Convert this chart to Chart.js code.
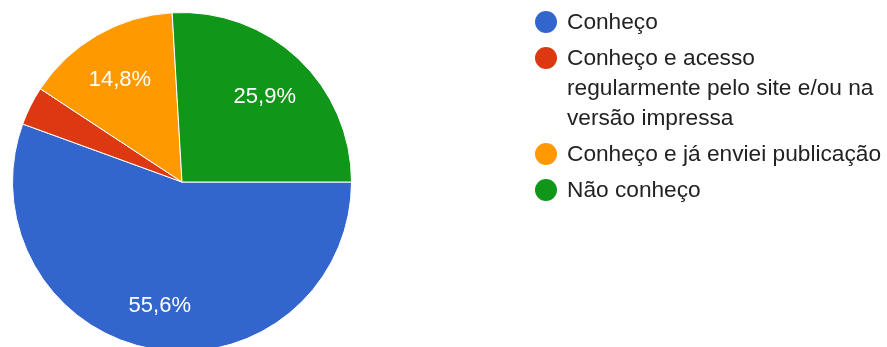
<!DOCTYPE html>
<html>
<head>
<meta charset="utf-8">
<script src="https://cdn.jsdelivr.net/npm/chart.js@4/dist/chart.umd.min.js"></script>
<style>
  html, body { margin: 0; padding: 0; background: #fff; overflow: hidden; }
  #wrap { position: relative; width: 887px; height: 364px; }
</style>
</head>
<body>
<div id="wrap"><canvas id="pie"></canvas></div>
<script>
// dados do gráfico
const labels = [
  ["Conheço"],
  ["Conheço e acesso", "regularmente pelo site e/ou na", "versão impressa"],
  ["Conheço e já enviei publicação"],
  ["Não conheço"],
];
const values = [15, 1, 4, 7];
const colors = ["#3366cc", "#dc3912", "#ff9900", "#109618"];

const total = values.reduce((a, b) => a + b, 0);

// rótulos de porcentagem dentro das fatias
const sliceLabels = {
  id: "sliceLabels",
  afterDatasetsDraw(chart) {
    const ctx = chart.ctx;
    const meta = chart.getDatasetMeta(0);
    ctx.save();
    ctx.fillStyle = "#ffffff";
    ctx.font = "22px 'Liberation Sans', Arial, sans-serif";
    ctx.textAlign = "center";
    ctx.textBaseline = "middle";
    meta.data.forEach((arc, i) => {
      const pct = (values[i] / total) * 100;
      if (pct < 5) return;
      const p = arc.getProps(["x", "y", "startAngle", "endAngle", "outerRadius"], true);
      const mid = (p.startAngle + p.endAngle) / 2;
      const r = p.outerRadius * 0.72;
      const text = pct.toFixed(1).replace(".", ",") + "%";
      ctx.fillText(text, p.x - 1 + Math.cos(mid) * r, p.y + 4 + Math.sin(mid) * r);
    });
    ctx.restore();
  },
};

// legenda à direita
const sideLegend = {
  id: "sideLegend",
  afterDraw(chart) {
    const ctx = chart.ctx;
    ctx.save();
    ctx.font = "22.7px 'Liberation Sans', Arial, sans-serif";
    ctx.textBaseline = "middle";
    let y = 22;
    labels.forEach((lines, i) => {
      ctx.fillStyle = colors[i];
      ctx.beginPath();
      ctx.arc(546, y, 11, 0, Math.PI * 2);
      ctx.fill();
      ctx.fillStyle = "#222222";
      lines.forEach((line, j) => {
        ctx.fillText(line, 567, y + 1 + j * 30);
      });
      y += (lines.length - 1) * 30 + 36;
    });
    ctx.restore();
  },
};

new Chart(document.getElementById("pie"), {
  type: "pie",
  data: {
    labels: labels.map((l) => l.join(" ")),
    datasets: [{
      data: values,
      backgroundColor: colors,
      borderColor: "#ffffff",
      borderWidth: 1,
    }],
  },
  options: {
    responsive: true,
    maintainAspectRatio: false,
    animation: false,
    rotation: 90,
    layout: { padding: { left: 12, top: 12, bottom: 12, right: 535 } },
    plugins: {
      legend: { display: false },
      tooltip: { enabled: false },
    },
  },
  plugins: [sliceLabels, sideLegend],
});
</script>
</body>
</html>
